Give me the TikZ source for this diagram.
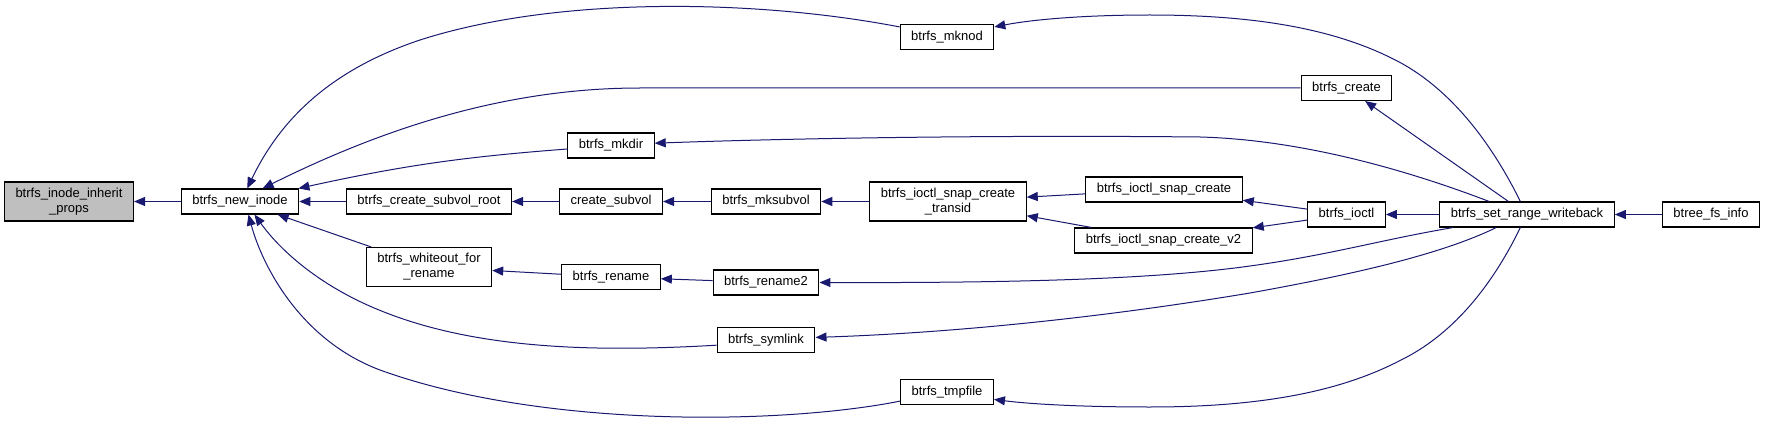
\documentclass[tikz,border=0pt]{standalone}
\usepackage{fontspec}
\setmainfont{Liberation Sans}
\usepackage{tikz}
\usetikzlibrary{arrows.meta}
\definecolor{cgInk}{HTML}{000000}
\definecolor{cgEdge}{HTML}{191970}
\definecolor{cgRoot}{HTML}{BFBFBF}
\tikzset{
  fnbox/.style  ={draw=cgInk,line width=1.1pt,fill=white,inner xsep=11pt,inner ysep=3pt,
                  minimum height=25pt,font=\fontsize{13pt}{15pt}\selectfont,align=center},
  fnboxtwo/.style={fnbox,minimum height=39pt},
  rootfn/.style ={fnboxtwo,fill=cgRoot},
  call/.style   ={-{Triangle[length=11pt,width=9pt]},draw=cgEdge,line width=1pt},
}

\begin{document}
\begin{tikzpicture}[x=1pt,y=-1pt]
\useasboundingbox (0,0) rectangle (1765,425);
\node[rootfn]   (inherit)  at (69,201.5)   {btrfs\_inode\_inherit\\\_props};
\node[fnboxtwo] (wrename)  at (429,267)    {btrfs\_whiteout\_for\\\_rename};
\node[fnboxtwo] (transid)  at (948,201.5)  {btrfs\_ioctl\_snap\_create\\\_transid};
\foreach \n/\x/\y/\t in {ninode/240/201.5/{btrfs\_new\_inode},
    csroot/429/201.5/{btrfs\_create\_subvol\_root}, mkdir/611/145.5/{btrfs\_mkdir},
    mknod/947/37/{btrfs\_mknod}, csubvol/611/201.5/{create\_subvol},
    mksubvol/766/201.5/{btrfs\_mksubvol}, screate/1164/189.5/{btrfs\_ioctl\_snap\_create},
    screatetwo/1163.5/240.5/{btrfs\_ioctl\_snap\_create\_v2}, rename/611/277/{btrfs\_rename},
    renametwo/766/282.5/{btrfs\_rename2}, symlink/766/340/{btrfs\_symlink},
    tmpfile/947/392/{btrfs\_tmpfile}, bcreate/1346.5/88/{btrfs\_create},
    ioctl/1346.5/214.5/{btrfs\_ioctl}, srw/1527/214.5/{btrfs\_set\_range\_writeback},
    fsinfo/1711/214.5/{btree\_fs\_info}}
  \node[fnbox] (\n) at (\x,\y) {\t};

% straight calls
\foreach \a/\b in {ninode/inherit, csroot/ninode, wrename/ninode, csubvol/csroot,
    mksubvol/csubvol, transid/mksubvol, screate/transid, screatetwo/transid,
    rename/wrename, renametwo/rename, ioctl/screate, ioctl/screatetwo, srw/ioctl,
    srw/bcreate, fsinfo/srw}
  \draw[call] (\a) -- (\b);

% curved calls into btrfs_new_inode
\draw[call] (mkdir) to[bend right=4] (ninode);
\draw[call] (mknod.168) .. controls (760,0) and (560,-5) .. (420,40)
  .. controls (330,70) and (280,120) .. (ninode.61);
\draw[call] (bcreate.west) -- (640,88) .. controls (520,88) and (400,120) .. (ninode.30);
\draw[call] (symlink.186) .. controls (600,352) and (480,350) .. (384,312)
  .. controls (320,287) and (280,250) .. (ninode.-42);
\draw[call] (tmpfile.191) .. controls (780,425) and (540,428) .. (380,370)
  .. controls (300,340) and (262,265) .. (ninode.-57);

% curved calls out of btrfs_set_range_writeback
\draw[call] (srw.117) .. controls (1490,140) and (1450,90) .. (1401,63)
  .. controls (1340,30) and (1260,15) .. (1150,15)
  .. controls (1080,15) and (1030,20) .. (mknod.12);
\draw[call] (srw.161) .. controls (1420,175) and (1310,140) .. (1200,137)
  .. controls (1000,135) and (800,138) .. (mkdir.3);
\draw[call] (srw.190) .. controls (1380,240) and (1330,255) .. (1250,266)
  .. controls (1150,280) and (1000,283) .. (renametwo.east);
\draw[call] (srw.203) .. controls (1440,255) and (1350,275) .. (1250,293)
  .. controls (1100,318) and (950,333) .. (symlink.3);
\draw[call] (srw.243) .. controls (1490,290) and (1450,336) .. (1401,360)
  .. controls (1340,392) and (1260,407) .. (1150,407)
  .. controls (1080,407) and (1030,404) .. (tmpfile.-9);
\end{tikzpicture}
\end{document}
